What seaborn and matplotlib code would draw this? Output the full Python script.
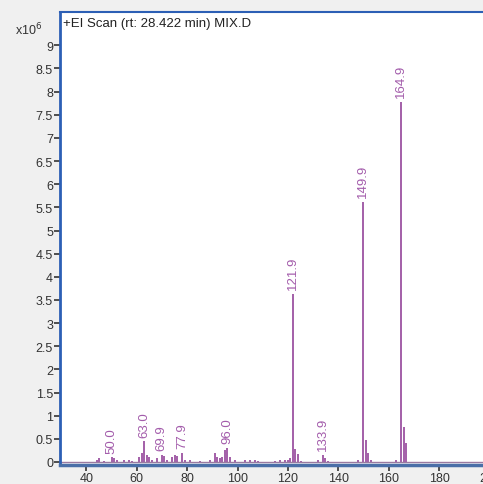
import matplotlib
matplotlib.use("Agg")
import matplotlib.pyplot as plt
import seaborn as sns
import pandas as pd

# ---- data ----
mz = [44, 45, 47, 50.0, 51, 52, 55, 57, 58, 61, 62, 63.0, 64, 65, 66, 68, 69.9, 70.9, 72,
      74, 75, 76, 77.9, 79, 81, 85, 89, 91, 92, 93, 94, 95, 96.0, 97, 99, 103, 105, 107,
      108, 115, 117, 119, 120, 121, 121.9, 122.9, 123.9, 125, 132, 133.9, 134.9, 136,
      148, 149.9, 150.9, 151.9, 153, 163, 164.9, 165.9, 166.9]
intensity = [0.05, 0.08, 0.03, 0.10, 0.08, 0.05, 0.04, 0.05, 0.03, 0.10, 0.20, 0.45, 0.15,
             0.10, 0.05, 0.08, 0.15, 0.12, 0.05, 0.10, 0.15, 0.12, 0.20, 0.05, 0.05, 0.03,
             0.05, 0.20, 0.10, 0.08, 0.10, 0.25, 0.30, 0.10, 0.04, 0.05, 0.04, 0.05, 0.03,
             0.03, 0.04, 0.05, 0.05, 0.08, 3.63, 0.28, 0.18, 0.03, 0.05, 0.15, 0.08, 0.03,
             0.05, 5.62, 0.47, 0.20, 0.04, 0.04, 7.78, 0.75, 0.40]
label_mz = [50.0, 63.0, 69.9, 77.9, 96.0, 121.9, 133.9, 149.9, 164.9]
label_text = ["50.0", "63.0", "69.9", "77.9", "96.0", "121.9", "133.9", "149.9", "164.9"]
yticks = [0, 0.5, 1, 1.5, 2, 2.5, 3, 3.5, 4, 4.5, 5, 5.5, 6, 6.5, 7, 7.5, 8, 8.5, 9]
ytick_labels = ["0", "0.5", "1", "1.5", "2", "2.5", "3", "3.5", "4", "4.5", "5", "5.5",
                "6", "6.5", "7", "7.5", "8", "8.5", "9"]
xticks = [40, 60, 80, 100, 120, 140, 160, 180, 200]
title = "+EI Scan (rt: 28.422 min) MIX.D"

df = pd.DataFrame({"mz": mz, "intensity": intensity})

sns.set_theme(style="white")
plt.rcParams['font.family'] = ['Liberation Sans', 'DejaVu Sans']

fig = plt.figure(figsize=(4.83, 4.85), dpi=100)
fig.patch.set_facecolor("#f0f0f0")
ax = fig.add_axes([60 / 483, 19 / 485, 442 / 483, 453 / 485])
ax.set_facecolor("white")

stem_color = "#93449a"
label_color = "#a35cab"

ax.vlines(df["mz"], 0, df["intensity"], color=stem_color, linewidth=1.2)
sns.lineplot(x=[29.5, 205], y=[0, 0], ax=ax, color="#9a7aa0", linewidth=1.0)

lookup = dict(zip(mz, intensity))
for m, t in zip(label_mz, label_text):
    ax.text(m, lookup[m] + 0.1, t, rotation=90, ha="center", va="bottom",
            fontsize=9.5, color=label_color)

ax.set_xlim(29.5, 205)
ax.set_ylim(-0.065, 9.72)
ax.set_yticks(yticks)
ax.set_yticklabels(ytick_labels)
ax.set_xticks(xticks)
ax.set_xticklabels([str(x) for x in xticks])
ax.tick_params(axis="both", direction="out", length=4, width=1.2, colors="#333333",
               labelsize=9, pad=1, bottom=True, left=True)

spine_c = "#2c5fb5"
ax.spines["left"].set_color(spine_c)
ax.spines["left"].set_linewidth(2)
ax.spines["top"].set_color(spine_c)
ax.spines["top"].set_linewidth(1.5)
ax.spines["bottom"].set_color("#4a6fa8")
ax.spines["bottom"].set_linewidth(2.5)
ax.spines["right"].set_visible(False)

ax.text(0.006, 0.988, title, transform=ax.transAxes, ha="left", va="top",
        fontsize=9.5, color="#222222")
fig.text(15 / 483, 1 - 30 / 485, r"x10$^{6}$", ha="left", va="center", fontsize=9,
         color="#333333")

fig.savefig("out.png", dpi=100, facecolor=fig.get_facecolor())
